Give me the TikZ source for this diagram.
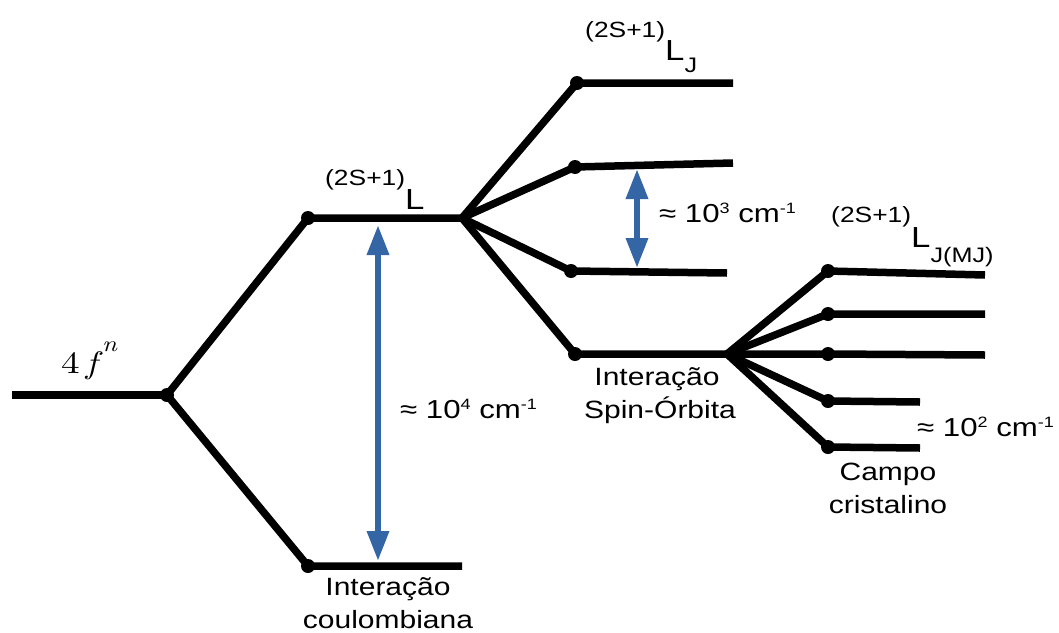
\documentclass[tikz,border=0pt]{standalone}
\usepackage{graphicx}
\usepackage{fontspec}
\setmainfont{Liberation Sans}[FakeStretch=1.2]
\newfontfamily\lmr{lmroman10-regular.otf}[ItalicFont=lmroman10-italic.otf]
\usetikzlibrary{arrows.meta}
\definecolor{gapblue}{RGB}{52,101,164}
\newcommand{\upx}[1]{\raisebox{0.32em}{\fontsize{15}{15}\selectfont #1}}
\begin{document}
\begin{tikzpicture}[x=1pt,y=-1pt,
  lvl/.style={line width=7.5pt,line join=round},
  dot/.style={circle,fill=black,inner sep=0pt,minimum size=14pt},
  gap/.style={gapblue,line width=6.3pt,{Triangle[length=30pt,width=21pt]}-{Triangle[length=30pt,width=21pt]}},
  lbl/.style={font=\fontsize{25}{25}\selectfont,inner sep=0pt,anchor=base},
  val/.style={font=\fontsize{26}{26}\selectfont,inner sep=0pt,anchor=base west},
  term/.style={font=\fontsize{22}{22}\selectfont,inner sep=0pt,anchor=base west}]
\useasboundingbox (0,0) rectangle (1059,632);
% level points
\coordinate (start) at (12,395);
\node[dot] (c0) at (167,395) {};
\node[dot] (c1) at (308,218) {};
\node[dot] (c2) at (308,566) {};
\coordinate (e1) at (462,218);
\coordinate (e2) at (462,566);
\node[dot] (s1) at (577,83) {};
\coordinate (s1e) at (733,83);
\node[dot] (s2) at (575,167) {};
\coordinate (s2e) at (733,163);
\node[dot] (s3) at (571,271) {};
\coordinate (s3e) at (727,273);
\node[dot] (s4) at (575,354) {};
\coordinate (k0) at (727,354);
\node[dot] (k1) at (828,271) {};
\coordinate (k1e) at (985,275);
\node[dot] (k2) at (828,314) {};
\coordinate (k2e) at (985,314);
\node[dot] (k3) at (828,354) {};
\coordinate (k3e) at (985,355);
\node[dot] (k4) at (828,401) {};
\coordinate (k4e) at (920,402);
\node[dot] (k5) at (828,447) {};
\coordinate (k5e) at (920,448);
% levels
\draw[lvl] (start) -- (c0.center);
\draw[lvl] (c0.center) -- (c1.center) -- (e1);
\draw[lvl] (c0.center) -- (c2.center) -- (e2);
\draw[lvl] (e1) -- (s1.center) -- (s1e);
\draw[lvl] (e1) -- (s2.center) -- (s2e);
\draw[lvl] (e1) -- (s3.center) -- (s3e);
\draw[lvl] (e1) -- (s4.center) -- (k0);
\draw[lvl] (k0) -- (k1.center) -- (k1e);
\draw[lvl] (k0) -- (k2.center) -- (k2e);
\draw[lvl] (k0) -- (k3.center) -- (k3e);
\draw[lvl] (k0) -- (k4.center) -- (k4e);
\draw[lvl] (k0) -- (k5.center) -- (k5e);
% gap arrows
\coordinate (a1t) at (378,225);
\coordinate (a1b) at (378,561);
\draw[gap] (a1t) -- (a1b);
\coordinate (a2t) at (637,169);
\coordinate (a2b) at (637,268);
\draw[gap] (a2t) -- (a2b);
% labels
\node[inner sep=0pt,anchor=base west] (fn) at (61,373) {\scalebox{1.2}[1]{\lmr\fontsize{31}{31}\selectfont 4\kern5pt{\itshape f}\kern4pt\raisebox{22pt}{\fontsize{22}{22}\selectfont\itshape n}}};
\node[term] (t1) at (325,185) {(2S+1)\raisebox{-24pt}{\fontsize{29}{29}\selectfont L}};
\node[term] (t2) at (585,37) {(2S+1)\raisebox{-23pt}{\fontsize{29}{29}\selectfont L}\raisebox{-35pt}{\fontsize{21}{21}\selectfont J}};
\node[term] (t3) at (831,222) {(2S+1)\raisebox{-25pt}{\fontsize{29}{29}\selectfont L}\raisebox{-40pt}{\fontsize{21}{21}\selectfont J(MJ)}};
\node[val] (v4) at (400,418) {≈ 10\upx{4} cm\upx{-1}};
\node[val] (v3) at (659,222) {≈ 10\upx{3} cm\upx{-1}};
\node[val] (v2) at (917,436) {≈ 10\upx{2} cm\upx{-1}};
\node[lbl] (ic1) at (388,595) {Interação};
\node[lbl] (ic2) at (388,628) {coulombiana};
\node[lbl] (is1) at (657,385) {Interação};
\node[lbl] (is2) at (660,418) {Spin-Órbita};
\node[lbl] (cc1) at (888,480) {Campo};
\node[lbl] (cc2) at (888,513) {cristalino};
\end{tikzpicture}
\end{document}
